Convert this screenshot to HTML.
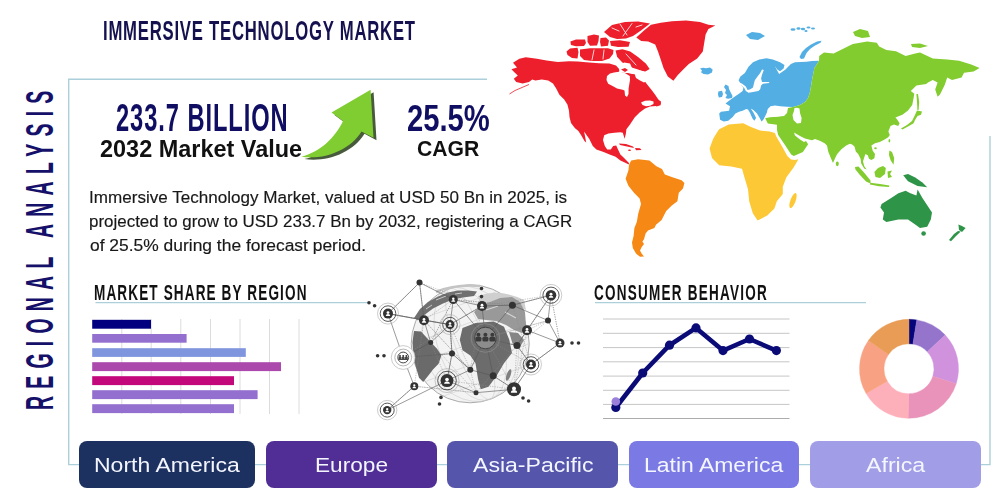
<!DOCTYPE html>
<html><head><meta charset="utf-8">
<style>
html,body{margin:0;padding:0;background:#fff;}
body{width:1000px;height:500px;position:relative;overflow:hidden;font-family:"Liberation Sans",sans-serif;}
.t{position:absolute;white-space:nowrap;line-height:1;transform-origin:0 0;}
.osw{font-weight:bold;color:#100e62;}
.btn{position:absolute;top:441px;height:46.5px;border-radius:8px;}
.bt{position:absolute;white-space:nowrap;line-height:1;transform-origin:0 0;color:#f4f6ff;font-size:20.1px;top:455.4px;}
svg{position:absolute;left:0;top:0;}
</style></head><body>

<!-- frame lines -->
<svg width="1000" height="500" style="z-index:0">
 <g stroke="#acd0d9" stroke-width="1.4" fill="none">
  <polyline points="487,79.2 68.7,79.2 68.7,464.6 990,464.6 990,136"/>
  <line x1="95.5" y1="302.6" x2="368" y2="302.6"/>
  <line x1="595" y1="302.6" x2="866" y2="302.6"/>
 </g>
</svg>

<svg width="1000" height="500" id="map">
<polygon points="513.0,62.8 519.4,58.8 525.8,57.2 537.0,58.8 546.6,60.4 557.8,62.0 569.0,61.2 578.0,61.5 586.0,62.3 599.0,63.2 609.4,63.4 616.0,65.5 620.0,70.0 624.0,72.0 632.0,74.0 640.0,74.5 646.6,83.8 651.4,89.8 655.0,94.6 658.0,99.0 661.0,104.0 656.0,106.0 650.0,106.5 645.0,108.5 639.6,112.4 634.8,117.2 630.0,124.4 626.4,129.2 625.8,134.0 624.6,138.8 622.8,132.8 620.4,132.2 614.4,132.8 608.4,133.4 604.2,135.2 603.0,140.0 604.8,146.0 607.2,149.6 610.8,149.6 613.2,146.0 616.2,145.4 618.0,149.6 620.4,154.4 622.8,156.8 626.0,160.0 629.0,163.0 628.8,164.5 625.2,162.8 620.4,160.4 615.6,156.8 609.6,154.4 603.6,152.0 596.4,149.6 592.8,146.0 589.2,138.8 584.0,131.5 585.0,136.0 586.2,142.4 584.5,141.0 581.0,135.0 578.4,131.0 574.8,128.0 571.0,123.0 569.5,117.0 569.0,110.8 567.4,104.4 564.2,99.6 559.4,94.8 556.2,88.4 553.0,83.6 548.2,80.4 541.8,79.6 535.4,80.4 532.2,79.6 529.0,82.0 522.6,83.6 516.2,82.0 513.8,78.8 517.8,75.6 514.6,72.4 511.4,69.2 517.0,67.6" fill="#ed1f2c"/>
<path d="M529,84.5 L522,87.5 L515,90.5 L509.5,94" stroke="#ed1f2c" stroke-width="0.8" fill="none"/>
<polygon points="604.0,32.0 612.0,25.0 625.0,22.0 638.0,21.5 650.0,23.5 641.0,30.5 633.0,36.0 626.0,38.5 617.0,39.0 610.0,37.0" fill="#ed1f2c"/>
<polygon points="610.0,41.0 620.0,40.3 630.0,42.0 628.5,46.8 618.0,47.0 611.0,45.8" fill="#ed1f2c"/>
<polygon points="570.4,41.5 576.0,39.5 585.0,39.5 586.0,43.0 584.0,46.0 576.0,46.3 571.0,45.0" fill="#ed1f2c"/>
<polygon points="587.5,36.0 594.0,34.5 599.0,35.5 598.5,41.0 597.0,45.5 590.0,45.8 587.5,42.0" fill="#ed1f2c"/>
<polygon points="600.5,38.0 606.0,37.5 609.0,40.5 608.0,45.8 601.0,46.5 600.0,42.0" fill="#ed1f2c"/>
<polygon points="566.5,51.5 570.0,48.5 577.5,47.8 578.5,52.0 577.5,58.5 572.0,58.0 567.5,55.0" fill="#ed1f2c"/>
<polygon points="580.0,49.5 590.0,48.3 600.0,48.3 608.0,48.3 613.5,50.0 613.0,54.0 609.5,58.5 602.0,61.0 592.0,61.0 584.0,60.0 580.0,56.0" fill="#ed1f2c"/>
<polygon points="615.5,50.5 622.4,49.3 630.2,51.5 638.0,57.0 645.8,63.5 649.7,69.0 644.5,72.0 638.0,69.6 630.2,67.0 622.4,62.5 617.2,57.0" fill="#ed1f2c"/>
<g stroke="#fff" stroke-width="0.8" fill="none" stroke-linecap="round"><path d="M620,24 L627,35 M632,23.5 L623,36 M626,54 L636,65 M594,50 L592,60 M604,50 L603,59 M612,28 L619,31 M636,27 L642,25"/></g>
<polygon points="636.3,37.4 644.0,30.4 651.0,24.8 660.8,22.7 672.0,21.3 686.0,20.6 700.0,22.0 708.4,24.8 715.4,25.5 708.4,29.0 705.6,34.6 704.2,43.0 702.8,51.4 697.2,58.4 688.8,64.0 683.2,69.6 677.6,75.2 673.4,80.8 667.8,76.6 663.6,68.2 660.8,59.8 658.0,51.4 655.2,44.4 648.2,41.6 641.2,40.9" fill="#ed1f2c"/>
<polygon points="607.0,76.0 610.0,73.5 614.0,72.5 619.0,71.8 624.0,72.5 629.8,76.0 630.0,80.0 628.6,88.6 628.5,94.0 627.0,97.0 625.0,95.5 624.5,90.5 622.6,89.8 617.0,88.5 613.0,86.2 608.2,83.8 606.5,80.0" fill="#fff"/>
<polygon points="619.0,143.5 626.0,144.0 633.0,146.5 634.0,148.0 627.0,146.6 620.0,145.0" fill="#ed1f2c"/>
<polygon points="635.0,148.0 640.0,148.3 641.5,150.0 636.0,150.2" fill="#ed1f2c"/>
<ellipse cx="629.5" cy="150.2" rx="1.5" ry="0.7" fill="#ed1f2c"/>
<polygon points="619.0,70.0 626.0,71.0 632.0,73.2 640.0,73.6 648.0,76.5 652.0,79.0 650.0,75.0 645.0,71.5 638.0,70.0 630.0,68.0 622.0,66.0" fill="#fff"/>
<polygon points="619.0,72.0 620.0,66.0 624.0,62.5 630.0,63.5 632.0,68.0 631.0,73.0 626.0,73.0" fill="#fff"/>
<polygon points="621.0,69.5 625.0,68.0 628.0,70.0 625.0,72.0" fill="#ed1f2c"/>
<polygon points="634.6,74.0 640.0,73.5 645.4,76.6 647.0,81.0 644.0,82.6 640.0,80.5 636.0,78.0" fill="#fff"/>
<polygon points="641.0,102.5 645.0,100.8 650.0,100.6 653.5,101.5 653.5,104.0 650.0,105.8 646.0,106.2 642.5,105.0" fill="#fff"/>
<polygon points="654.0,100.2 658.0,99.4 661.0,101.5 660.5,105.2 656.5,106.6 654.2,104.5" fill="#ed1f2c"/>
<polygon points="631.2,160.6 638.2,159.2 649.4,160.6 656.4,166.2 662.0,169.0 664.8,174.6 673.2,177.4 681.6,180.2 684.4,183.0 683.0,188.6 678.8,192.8 677.4,201.2 671.8,205.4 666.2,211.0 663.4,216.6 661.6,220.0 656.0,224.8 654.4,228.0 648.0,230.4 645.6,233.6 644.0,239.2 642.4,241.6 644.0,244.0 641.6,247.2 640.0,250.4 641.6,253.6 644.0,256.4 640.0,256.8 636.0,253.6 632.8,248.0 632.0,242.4 633.6,236.0 634.4,228.0 636.8,222.0 638.2,213.8 641.0,204.0 639.6,198.4 634.0,192.8 628.4,185.8 625.6,178.8 628.4,170.4 629.0,165.0" fill="#f68915"/>
<polygon points="738.6,80.2 740.4,76.6 744.9,73.0 748.5,66.7 753.0,62.2 759.3,59.5 766.5,58.2 772.8,59.5 780.0,62.2 784.5,64.9 783.6,68.5 780.0,71.2 777.3,69.4 774.6,65.8 779.1,73.9 785.5,69.4 790.9,64.0 795.0,62.2 806.5,61.7 812.0,61.0 819.0,60.8 814.4,68.0 812.0,80.0 810.0,92.0 808.0,98.0 805.0,102.0 800.0,105.0 793.0,107.0 787.0,106.7 780.4,106.3 775.0,105.4 770.5,106.3 767.8,109.0 766.9,112.6 765.1,116.2 763.3,119.8 761.5,121.6 759.7,118.0 757.0,113.5 753.4,110.0 750.7,108.5 753.4,112.6 756.1,118.0 754.3,120.7 752.5,118.5 749.8,112.6 748.0,109.5 746.2,109.0 742.6,110.8 739.0,111.7 735.4,113.5 732.7,117.1 728.2,120.7 723.7,121.6 720.1,119.8 719.2,113.5 721.0,111.7 729.1,110.8 730.0,106.3 725.5,103.6 730.0,100.0 736.3,95.5 739.0,93.7 742.6,91.0 743.5,87.4 741.5,85.5" fill="#52aee3"/>
<polygon points="762.0,69.4 763.8,69.9 762.0,74.8 761.1,78.4 762.0,82.0 769.2,82.0 769.2,83.0 762.9,83.8 761.1,85.6 760.2,89.2 758.4,91.0 753.0,92.0 748.5,92.8 745.8,91.0 744.0,87.4 740.4,84.7 738.6,82.0 742.2,83.8 745.8,86.5 747.6,90.1 750.3,89.2 753.0,87.4 753.9,83.8 754.8,80.2 757.5,76.6 760.2,73.0" fill="#fff"/>
<polygon points="725.5,84.5 728.5,86.0 729.0,89.0 730.5,92.0 732.5,96.0 732.0,98.0 728.0,98.8 725.5,98.0 727.0,95.0 725.0,93.0 726.0,90.0 724.0,87.0" fill="#52aee3"/>
<polygon points="718.3,91.5 722.0,90.8 723.0,94.0 722.0,97.0 718.8,97.5 718.0,94.5" fill="#52aee3"/>
<polygon points="746.0,35.0 752.0,32.0 760.0,33.0 765.0,36.0 758.0,40.0 750.0,39.0" fill="#52aee3"/>
<polygon points="799.5,57.0 802.0,52.0 806.0,48.0 811.0,44.5 817.0,41.5 821.5,40.8 820.5,42.8 815.0,45.5 810.0,49.0 806.5,53.0 804.0,58.5 801.0,59.0" fill="#52aee3"/>
<ellipse cx="793" cy="29.5" rx="2.5" ry="1.2" fill="#52aee3"/>
<ellipse cx="798.5" cy="28.5" rx="2" ry="1.3" fill="#52aee3"/>
<ellipse cx="803" cy="29" rx="2.2" ry="1.2" fill="#52aee3"/>
<ellipse cx="808.5" cy="27.5" rx="2" ry="1.1" fill="#52aee3"/>
<ellipse cx="813" cy="28.5" rx="2" ry="1" fill="#52aee3"/>
<ellipse cx="806" cy="31" rx="1.6" ry="0.9" fill="#52aee3"/>
<polygon points="700.0,68.5 703.0,67.8 706.0,68.2 710.0,67.6 712.6,69.5 712.0,72.5 708.0,74.5 703.5,74.0 701.0,72.3 702.0,70.5" fill="#52aee3"/>
<polygon points="719.2,129.2 728.8,124.4 743.2,123.2 750.4,126.8 760.0,130.4 769.6,131.6 775.0,133.0 776.0,136.0 779.5,142.0 783.5,149.0 787.3,156.0 791.0,159.5 795.0,160.0 798.4,159.2 793.6,167.6 786.4,177.2 782.8,186.8 782.8,194.0 776.8,201.2 774.4,208.4 767.2,215.6 757.6,220.4 752.8,213.2 749.2,201.2 748.0,189.2 744.4,177.2 742.0,168.8 731.2,166.4 719.2,165.2 712.0,158.0 709.6,148.4 713.2,138.8 716.8,132.8" fill="#fcc835"/>
<ellipse cx="793" cy="200.6" rx="2.6" ry="8" transform="rotate(20 793 200.6)" fill="#fcc835"/>
<polygon points="819.0,60.8 819.2,56.0 824.0,52.4 833.6,53.6 843.2,48.8 852.8,44.0 867.2,41.6 876.8,42.8 879.2,46.4 886.4,50.0 896.0,51.2 905.6,56.0 915.2,53.6 920.0,52.4 932.8,58.4 947.2,59.6 959.2,60.8 971.2,64.4 979.6,68.0 973.6,71.6 964.0,72.8 961.6,77.6 952.0,80.0 947.2,77.6 944.8,84.8 940.0,94.4 937.6,96.8 935.2,89.6 937.6,82.4 932.8,80.0 928.0,82.4 926.2,84.0 916.4,85.4 910.8,91.0 914.3,93.8 913.6,98.0 912.2,105.0 908.0,110.6 902.4,114.8 895.4,117.6 896.8,119.0 899.6,123.2 898.2,126.0 894.0,124.6 890.5,126.0 888.4,131.6 889.8,135.0 888.2,137.2 884.6,139.6 879.8,142.0 875.0,143.2 871.4,145.6 872.6,150.4 875.0,154.0 874.4,158.2 871.4,160.0 869.0,158.8 867.8,155.2 865.4,154.0 864.2,157.6 863.0,161.2 864.2,166.0 866.6,169.6 864.2,168.4 861.2,163.6 860.6,158.8 858.2,154.0 855.8,151.6 854.6,146.8 852.2,144.4 849.8,143.8 846.2,145.6 841.4,149.2 837.2,154.0 835.4,157.6 833.0,163.0 830.6,157.6 828.2,151.6 827.0,145.6 824.6,143.2 819.8,140.8 815.0,139.0 812.0,140.3 805.0,138.5 800.0,136.0 794.0,132.5 795.0,135.5 800.0,139.5 804.0,142.0 806.0,141.0 808.1,144.2 802.9,152.0 793.8,155.9 791.2,154.6 785.0,145.0 778.2,135.1 777.0,130.0 777.0,124.7 767.8,123.4 765.2,118.2 770.0,117.2 777.0,116.7 784.0,116.0 787.0,113.0 788.0,108.0 793.0,107.0 800.0,105.0 805.0,102.0 808.0,98.0 810.0,92.0 812.0,80.0 814.4,68.0" fill="#82cc2f"/>
<polygon points="767.8,110.0 770.0,107.5 777.0,106.5 786.0,107.8 787.0,111.0 784.0,115.6 777.0,116.5 770.0,117.0 767.8,113.0" fill="#fff"/>
<polygon points="794.5,108.0 797.0,107.8 799.5,108.5 800.0,113.0 801.6,118.0 801.0,123.0 797.0,123.4 793.5,120.0 792.5,115.0 794.0,111.0" fill="#fff"/>
<polygon points="853.0,32.0 860.0,29.0 868.0,31.0 870.0,37.0 862.0,38.0 855.0,36.0" fill="#82cc2f"/>
<polygon points="911.0,44.0 920.0,43.5 928.0,46.0 920.0,48.0 912.0,47.0" fill="#82cc2f"/>
<polygon points="917.0,110.6 922.0,111.5 921.0,114.8 917.5,116.0 915.0,120.0 913.6,123.2 908.0,126.5 902.4,129.5 901.0,128.5 907.0,125.0 912.0,121.0 914.5,116.0" fill="#82cc2f"/>
<polygon points="916.4,94.0 918.0,94.0 919.2,102.0 918.6,110.0 917.4,110.0 917.0,102.0" fill="#82cc2f"/>
<polygon points="855.0,167.0 858.5,166.5 864.0,172.5 870.5,180.5 870.5,183.5 866.0,181.5 859.5,174.5 855.5,169.5" fill="#82cc2f"/>
<polygon points="870.2,182.8 880.0,184.0 889.4,185.6 889.0,187.0 879.0,186.2 870.0,184.6" fill="#82cc2f"/>
<polygon points="874.4,172.0 878.0,168.0 883.0,166.0 885.8,168.0 885.0,174.0 880.0,178.0 875.5,177.0" fill="#82cc2f"/>
<polygon points="887.5,171.5 892.0,170.5 890.0,174.0 892.0,177.0 888.0,178.0" fill="#82cc2f"/>
<polygon points="889.4,150.4 892.0,152.0 894.2,158.0 893.5,164.8 890.5,160.0 889.0,155.0" fill="#82cc2f"/>
<ellipse cx="837.3" cy="163.8" rx="1.5" ry="2.4" fill="#82cc2f"/>
<ellipse cx="889.4" cy="140.8" rx="0.9" ry="1.8" fill="#82cc2f"/>
<ellipse cx="875.5" cy="148.2" rx="1.3" ry="1" fill="#82cc2f"/>
<polygon points="881.6,204.0 891.2,198.0 898.4,193.2 905.6,190.8 910.4,193.2 916.4,195.6 917.6,189.6 922.4,198.0 927.2,205.2 932.0,212.4 930.8,219.6 927.2,226.8 920.0,228.0 915.2,224.4 908.0,219.6 898.4,219.6 886.4,222.0 882.8,219.6 884.0,212.4 880.4,207.6" fill="#2e9447"/>
<circle cx="923.6" cy="233.5" r="2.3" fill="#2e9447"/>
<polygon points="958.4,224.4 962.0,226.0 965.6,228.0 962.0,232.0 959.0,230.0" fill="#2e9447"/>
<polygon points="960.8,231.6 956.0,236.0 951.0,241.2 949.0,240.0 954.0,234.0 958.0,231.0" fill="#2e9447"/>
<polygon points="903.2,175.2 908.0,174.0 915.2,177.6 922.4,182.4 927.2,187.2 917.6,186.0 908.0,181.2" fill="#2e9447"/>
</svg>
<!-- title -->
<div class="t osw" style="left:102.9px;top:16.8px;font-size:27.6px;letter-spacing:1.28px;transform:scaleX(0.605);color:#15114f">IMMERSIVE TECHNOLOGY MARKET</div>

<!-- vertical text -->
<div class="t osw" style="left:20px;top:409.8px;font-size:39px;letter-spacing:14.4px;transform:rotate(-90deg) scaleX(0.5);color:#15106a">REGIONAL ANALYSIS</div>

<!-- numbers -->
<div class="t osw" style="left:116.2px;top:99px;font-size:38.2px;letter-spacing:1.5px;transform:scaleX(0.62)">233.7 BILLION</div>
<div class="t" style="left:100.3px;top:137.5px;font-size:23.5px;font-weight:bold;color:#111;transform:scaleX(0.998)">2032 Market Value</div>
<div class="t osw" style="left:407.1px;top:99.6px;font-size:37.2px;transform:scaleX(0.785)">25.5%</div>
<div class="t" style="left:417.3px;top:138px;font-size:21.8px;font-weight:bold;color:#111;transform:scaleX(0.97)">CAGR</div>

<!-- arrow -->
<svg width="1000" height="500">
 <defs><filter id="bl" x="-20%" y="-20%" width="140%" height="140%"><feGaussianBlur stdDeviation="0.7"/></filter></defs>
 <path d="M370.6,89.8 L331.5,112.5 L343,121 C335,138 320,152 301.4,156.7 C325,160 350,150 361.5,131.4 L373.5,137.8 Z" fill="#475a3a" transform="translate(3,2.4)" filter="url(#bl)" opacity="1"/>
 <path d="M370.6,89.8 L331.5,112.5 L343,121 C335,138 320,152 301.4,156.7 C325,160 350,150 361.5,131.4 L373.5,137.8 Z" fill="#80cd32"/>
</svg>

<!-- paragraph -->
<div class="t" style="left:88.7px;top:189.2px;font-size:16.3px;color:#181818;-webkit-text-stroke:0.15px #181818;transform:scaleX(1.049)">Immersive Technology Market, valued at USD 50 Bn in 2025, is</div>
<div class="t" style="left:89.3px;top:212.8px;font-size:16.3px;color:#181818;-webkit-text-stroke:0.15px #181818;transform:scaleX(1.041)">projected to grow to USD 233.7 Bn by 2032, registering a CAGR</div>
<div class="t" style="left:89.6px;top:237.2px;font-size:16.3px;color:#181818;-webkit-text-stroke:0.15px #181818;transform:scaleX(1.07)">of 25.5% during the forecast period.</div>

<!-- section titles -->
<div class="t" style="left:94px;top:281.7px;font-size:21.9px;font-weight:bold;letter-spacing:1.8px;color:#111;transform:scaleX(0.62)">MARKET SHARE BY REGION</div>
<div class="t" style="left:593.9px;top:281.7px;font-size:21.8px;font-weight:bold;letter-spacing:2px;color:#111;transform:scaleX(0.62)">CONSUMER BEHAVIOR</div>

<!-- bar chart -->
<svg width="1000" height="500">
 <g stroke="#dcdcdc" stroke-width="1">
  <line x1="121.8" y1="319" x2="121.8" y2="414"/>
  <line x1="151.2" y1="319" x2="151.2" y2="414"/>
  <line x1="180.8" y1="319" x2="180.8" y2="414"/>
  <line x1="210.5" y1="319" x2="210.5" y2="414"/>
  <line x1="240" y1="319" x2="240" y2="414"/>
  <line x1="269.5" y1="319" x2="269.5" y2="414"/>
  <line x1="299" y1="319" x2="299" y2="414"/>
 </g>
 <rect x="92.2" y="319.8" width="58.8" height="8.9" fill="#02007e"/>
 <rect x="92.2" y="334" width="94.4" height="8.7" fill="#9370cf"/>
 <rect x="92.2" y="348.2" width="153.6" height="8.7" fill="#7f95de"/>
 <rect x="92.2" y="362.2" width="188.8" height="8.9" fill="#ab49ac"/>
 <rect x="92.2" y="376.2" width="141.8" height="8.9" fill="#c2087a"/>
 <rect x="92.2" y="390.2" width="165.4" height="8.9" fill="#9370cf"/>
 <rect x="92.2" y="404.2" width="141.8" height="8.9" fill="#9370cf"/>
</svg>

<svg width="1000" height="500" id="globe">
<circle cx="470.2" cy="343.8" r="59" fill="#f3f3f3" stroke="#a0a0a0" stroke-width="0.9"/>
<ellipse cx="470.2" cy="343.8" rx="15" ry="59" fill="none" stroke="#c8c8c8" stroke-width="0.5" transform="rotate(-20 470.2 343.8)"/>
<ellipse cx="470.2" cy="343.8" rx="32" ry="59" fill="none" stroke="#c8c8c8" stroke-width="0.5" transform="rotate(-20 470.2 343.8)"/>
<ellipse cx="470.2" cy="343.8" rx="47" ry="59" fill="none" stroke="#c8c8c8" stroke-width="0.5" transform="rotate(-20 470.2 343.8)"/>
<line x1="427.2" y1="303.8" x2="513.2" y2="303.8" stroke="#cdcdcd" stroke-width="0.5" transform="rotate(-20 470.2 343.8)"/>
<line x1="414.7" y1="323.8" x2="525.7" y2="323.8" stroke="#cdcdcd" stroke-width="0.5" transform="rotate(-20 470.2 343.8)"/>
<line x1="411.2" y1="343.8" x2="529.2" y2="343.8" stroke="#cdcdcd" stroke-width="0.5" transform="rotate(-20 470.2 343.8)"/>
<line x1="414.7" y1="363.8" x2="525.7" y2="363.8" stroke="#cdcdcd" stroke-width="0.5" transform="rotate(-20 470.2 343.8)"/>
<line x1="427.2" y1="383.8" x2="513.2" y2="383.8" stroke="#cdcdcd" stroke-width="0.5" transform="rotate(-20 470.2 343.8)"/>
<polygon points="414.0,318.0 420.0,309.0 428.0,302.0 438.0,296.5 448.0,292.5 458.0,290.5 468.0,290.5 477.0,291.5 474.0,296.0 463.0,297.5 453.0,299.5 443.0,303.5 433.0,308.5 425.0,314.5 418.0,320.0" fill="#707070"/>
<path d="M436,300 L446,296 M426,309 L432,305 M455,294 L462,293" stroke="#c8c8c8" stroke-width="1"/>
<path d="M436,292 Q455,284 480,286" stroke="#c4c4c4" stroke-width="2.5" fill="none"/>
<polygon points="414.0,331.0 421.0,331.5 428.8,340.0 437.2,349.0 441.4,355.4 438.6,363.8 433.0,369.4 428.8,375.0 423.2,382.0 419.0,377.8 416.2,368.0 413.4,356.8 412.5,342.0" fill="#6a6a6a"/>
<polygon points="462.5,328.0 475.5,323.0 493.7,321.6 504.0,326.8 509.3,339.8 512.0,352.9 504.0,363.3 496.3,376.3 488.5,386.7 480.7,389.3 478.0,378.9 475.5,363.3 470.3,355.5 462.5,350.3 459.8,339.8" fill="#6c6c6c"/>
<path d="M478,296 Q500,288 524,300 L526,310 Q505,300 480,304 Z" fill="#cfcfcf"/>
<polygon points="474.0,312.0 480.0,306.0 490.0,302.0 500.0,298.0 512.0,297.0 520.0,302.0 525.0,312.0 526.0,325.0 522.0,333.0 514.0,330.0 506.0,325.0 496.0,321.0 486.0,320.0 478.0,319.0" fill="#999"/>
<path d="M486,310 L498,306 M505,312 L516,318" stroke="#d6d6d6" stroke-width="1.2" fill="none"/>
<polygon points="509.0,332.0 518.0,333.0 524.0,340.0 520.0,347.0 513.0,345.0" fill="#858585"/>
<ellipse cx="508.6" cy="375" rx="2" ry="6" fill="#808080" transform="rotate(20 508.6 375)"/>
<line x1="414.3" y1="386.2" x2="476" y2="392.7" stroke="#888" stroke-width="0.5" stroke-dasharray="1.2 1.2"/>
<line x1="476" y1="392.7" x2="414.3" y2="386.2" stroke="#888" stroke-width="0.5" stroke-dasharray="1.2 1.2"/>
<line x1="514" y1="389.3" x2="493.2" y2="375.8" stroke="#888" stroke-width="0.5" stroke-dasharray="1.2 1.2"/>
<line x1="450" y1="324.6" x2="388" y2="313.6" stroke="#888" stroke-width="0.5" stroke-dasharray="1.2 1.2"/>
<line x1="453.3" y1="299.5" x2="430.7" y2="342.5" stroke="#888" stroke-width="0.5" stroke-dasharray="1.2 1.2"/>
<line x1="424" y1="320.3" x2="470.3" y2="369.8" stroke="#888" stroke-width="0.5" stroke-dasharray="1.2 1.2"/>
<line x1="512.4" y1="305.2" x2="453.3" y2="299.5" stroke="#888" stroke-width="0.5" stroke-dasharray="1.2 1.2"/>
<line x1="424" y1="320.3" x2="414.3" y2="386.2" stroke="#888" stroke-width="0.5" stroke-dasharray="1.2 1.2"/>
<line x1="485.4" y1="338" x2="517" y2="345.6" stroke="#888" stroke-width="0.5" stroke-dasharray="1.2 1.2"/>
<line x1="560" y1="343" x2="531" y2="364.5" stroke="#888" stroke-width="0.5" stroke-dasharray="1.2 1.2"/>
<line x1="531" y1="364.5" x2="514" y2="389.3" stroke="#888" stroke-width="0.5" stroke-dasharray="1.2 1.2"/>
<line x1="470.3" y1="369.8" x2="476" y2="392.7" stroke="#888" stroke-width="0.5" stroke-dasharray="1.2 1.2"/>
<line x1="551" y1="295.2" x2="560" y2="343" stroke="#888" stroke-width="0.5" stroke-dasharray="1.2 1.2"/>
<line x1="403.2" y1="357.5" x2="450" y2="324.6" stroke="#888" stroke-width="0.5" stroke-dasharray="1.2 1.2"/>
<line x1="403.2" y1="357.5" x2="452" y2="353.6" stroke="#888" stroke-width="0.5" stroke-dasharray="1.2 1.2"/>
<line x1="485.4" y1="338" x2="548" y2="320.5" stroke="#888" stroke-width="0.5" stroke-dasharray="1.2 1.2"/>
<line x1="482" y1="306" x2="470.3" y2="369.8" stroke="#888" stroke-width="0.5" stroke-dasharray="1.2 1.2"/>
<line x1="424" y1="320.3" x2="419.5" y2="282.6" stroke="#888" stroke-width="0.5" stroke-dasharray="1.2 1.2"/>
<line x1="531" y1="364.5" x2="512.4" y2="305.2" stroke="#888" stroke-width="0.5" stroke-dasharray="1.2 1.2"/>
<line x1="476" y1="392.7" x2="517" y2="345.6" stroke="#888" stroke-width="0.5" stroke-dasharray="1.2 1.2"/>
<line x1="514" y1="389.3" x2="527" y2="330.2" stroke="#888" stroke-width="0.5" stroke-dasharray="1.2 1.2"/>
<line x1="453.3" y1="299.5" x2="430.7" y2="342.5" stroke="#888" stroke-width="0.5" stroke-dasharray="1.2 1.2"/>
<line x1="419.5" y1="282.6" x2="482" y2="306" stroke="#888" stroke-width="0.5" stroke-dasharray="1.2 1.2"/>
<line x1="512.4" y1="305.2" x2="551" y2="295.2" stroke="#888" stroke-width="0.5" stroke-dasharray="1.2 1.2"/>
<line x1="485.4" y1="338" x2="531" y2="364.5" stroke="#888" stroke-width="0.5" stroke-dasharray="1.2 1.2"/>
<line x1="470.3" y1="369.8" x2="424" y2="320.3" stroke="#888" stroke-width="0.5" stroke-dasharray="1.2 1.2"/>
<line x1="447" y1="380.6" x2="514" y2="389.3" stroke="#888" stroke-width="0.5" stroke-dasharray="1.2 1.2"/>
<line x1="551" y1="295.2" x2="560" y2="343" stroke="#888" stroke-width="0.5" stroke-dasharray="1.2 1.2"/>
<line x1="517" y1="345.6" x2="531" y2="364.5" stroke="#888" stroke-width="0.5" stroke-dasharray="1.2 1.2"/>
<line x1="517" y1="345.6" x2="514" y2="389.3" stroke="#888" stroke-width="0.5" stroke-dasharray="1.2 1.2"/>
<line x1="430.7" y1="342.5" x2="476" y2="392.7" stroke="#888" stroke-width="0.5" stroke-dasharray="1.2 1.2"/>
<line x1="424" y1="320.3" x2="453.3" y2="299.5" stroke="#888" stroke-width="0.5" stroke-dasharray="1.2 1.2"/>
<line x1="452" y1="353.6" x2="447" y2="380.6" stroke="#888" stroke-width="0.5" stroke-dasharray="1.2 1.2"/>
<line x1="387.2" y1="410.1" x2="414.3" y2="386.2" stroke="#888" stroke-width="0.5" stroke-dasharray="1.2 1.2"/>
<line x1="419.5" y1="282.6" x2="388" y2="313.6" stroke="#888" stroke-width="0.5" stroke-dasharray="1.2 1.2"/>
<line x1="517" y1="345.6" x2="548" y2="320.5" stroke="#888" stroke-width="0.5" stroke-dasharray="1.2 1.2"/>
<line x1="447" y1="380.6" x2="430.7" y2="342.5" stroke="#888" stroke-width="0.5" stroke-dasharray="1.2 1.2"/>
<line x1="452" y1="353.6" x2="450" y2="324.6" stroke="#888" stroke-width="0.5" stroke-dasharray="1.2 1.2"/>
<line x1="470.3" y1="369.8" x2="450" y2="324.6" stroke="#888" stroke-width="0.5" stroke-dasharray="1.2 1.2"/>
<line x1="452" y1="353.6" x2="470.3" y2="369.8" stroke="#888" stroke-width="0.5" stroke-dasharray="1.2 1.2"/>
<line x1="551" y1="295.2" x2="517" y2="345.6" stroke="#888" stroke-width="0.5" stroke-dasharray="1.2 1.2"/>
<line x1="527" y1="330.2" x2="548" y2="320.5" stroke="#888" stroke-width="0.5" stroke-dasharray="1.2 1.2"/>
<line x1="517" y1="345.6" x2="527" y2="330.2" stroke="#888" stroke-width="0.5" stroke-dasharray="1.2 1.2"/>
<line x1="452" y1="353.6" x2="450" y2="324.6" stroke="#888" stroke-width="0.5" stroke-dasharray="1.2 1.2"/>
<line x1="560" y1="343" x2="531" y2="364.5" stroke="#888" stroke-width="0.5" stroke-dasharray="1.2 1.2"/>
<line x1="450" y1="324.6" x2="482" y2="306" stroke="#888" stroke-width="0.5" stroke-dasharray="1.2 1.2"/>
<line x1="548" y1="320.5" x2="485.4" y2="338" stroke="#888" stroke-width="0.5" stroke-dasharray="1.2 1.2"/>
<line x1="517" y1="345.6" x2="527" y2="330.2" stroke="#888" stroke-width="0.5" stroke-dasharray="1.2 1.2"/>
<line x1="512.4" y1="305.2" x2="453.3" y2="299.5" stroke="#888" stroke-width="0.5" stroke-dasharray="1.2 1.2"/>
<line x1="514" y1="389.3" x2="485.4" y2="338" stroke="#888" stroke-width="0.5" stroke-dasharray="1.2 1.2"/>
<line x1="482" y1="306" x2="551" y2="295.2" stroke="#888" stroke-width="0.5" stroke-dasharray="1.2 1.2"/>
<line x1="419.5" y1="282.6" x2="453.3" y2="299.5" stroke="#555" stroke-width="0.6"/>
<line x1="419.5" y1="282.6" x2="388" y2="313.6" stroke="#555" stroke-width="0.6"/>
<line x1="419.5" y1="282.6" x2="424" y2="320.3" stroke="#555" stroke-width="0.6"/>
<line x1="453.3" y1="299.5" x2="482" y2="306" stroke="#555" stroke-width="0.6"/>
<line x1="482" y1="306" x2="512.4" y2="305.2" stroke="#555" stroke-width="0.6"/>
<line x1="512.4" y1="305.2" x2="551" y2="295.2" stroke="#555" stroke-width="0.6"/>
<line x1="512.4" y1="305.2" x2="548" y2="320.5" stroke="#555" stroke-width="0.6"/>
<line x1="551" y1="295.2" x2="548" y2="320.5" stroke="#555" stroke-width="0.6"/>
<line x1="548" y1="320.5" x2="560" y2="343" stroke="#555" stroke-width="0.6"/>
<line x1="551" y1="295.2" x2="527" y2="330.2" stroke="#555" stroke-width="0.6"/>
<line x1="527" y1="330.2" x2="560" y2="343" stroke="#555" stroke-width="0.6"/>
<line x1="424" y1="320.3" x2="388" y2="313.6" stroke="#555" stroke-width="0.6"/>
<line x1="424" y1="320.3" x2="450" y2="324.6" stroke="#555" stroke-width="0.6"/>
<line x1="450" y1="324.6" x2="453.3" y2="299.5" stroke="#555" stroke-width="0.6"/>
<line x1="450" y1="324.6" x2="482" y2="306" stroke="#555" stroke-width="0.6"/>
<line x1="450" y1="324.6" x2="452" y2="353.6" stroke="#555" stroke-width="0.6"/>
<line x1="482" y1="306" x2="485.4" y2="338" stroke="#555" stroke-width="0.6"/>
<line x1="485.4" y1="338" x2="517" y2="345.6" stroke="#555" stroke-width="0.6"/>
<line x1="485.4" y1="338" x2="512.4" y2="305.2" stroke="#555" stroke-width="0.6"/>
<line x1="485.4" y1="338" x2="470.3" y2="369.8" stroke="#555" stroke-width="0.6"/>
<line x1="424" y1="320.3" x2="430.7" y2="342.5" stroke="#555" stroke-width="0.6"/>
<line x1="430.7" y1="342.5" x2="403.2" y2="357.5" stroke="#555" stroke-width="0.6"/>
<line x1="403.2" y1="357.5" x2="388" y2="313.6" stroke="#555" stroke-width="0.6"/>
<line x1="403.2" y1="357.5" x2="414.3" y2="386.2" stroke="#555" stroke-width="0.6"/>
<line x1="414.3" y1="386.2" x2="387.2" y2="410.1" stroke="#555" stroke-width="0.6"/>
<line x1="387.2" y1="410.1" x2="447" y2="380.6" stroke="#555" stroke-width="0.6"/>
<line x1="447" y1="380.6" x2="452" y2="353.6" stroke="#555" stroke-width="0.6"/>
<line x1="447" y1="380.6" x2="470.3" y2="369.8" stroke="#555" stroke-width="0.6"/>
<line x1="470.3" y1="369.8" x2="493.2" y2="375.8" stroke="#555" stroke-width="0.6"/>
<line x1="493.2" y1="375.8" x2="514" y2="389.3" stroke="#555" stroke-width="0.6"/>
<line x1="514" y1="389.3" x2="531" y2="364.5" stroke="#555" stroke-width="0.6"/>
<line x1="531" y1="364.5" x2="560" y2="343" stroke="#555" stroke-width="0.6"/>
<line x1="531" y1="364.5" x2="517" y2="345.6" stroke="#555" stroke-width="0.6"/>
<line x1="517" y1="345.6" x2="527" y2="330.2" stroke="#555" stroke-width="0.6"/>
<line x1="452" y1="353.6" x2="470.3" y2="369.8" stroke="#555" stroke-width="0.6"/>
<line x1="485.4" y1="338" x2="493.2" y2="375.8" stroke="#555" stroke-width="0.6"/>
<line x1="430.7" y1="342.5" x2="450" y2="324.6" stroke="#555" stroke-width="0.6"/>
<line x1="447" y1="380.6" x2="476" y2="392.7" stroke="#555" stroke-width="0.6"/>
<line x1="476" y1="392.7" x2="514" y2="389.3" stroke="#555" stroke-width="0.6"/>
<line x1="403.2" y1="357.5" x2="452" y2="353.6" stroke="#555" stroke-width="0.6"/>
<line x1="453.3" y1="299.5" x2="485.4" y2="338" stroke="#555" stroke-width="0.6"/>
<line x1="388" y1="313.6" x2="450" y2="324.6" stroke="#555" stroke-width="0.6"/>
<circle cx="419.5" cy="282.6" r="3" fill="#333"/>
<circle cx="453.3" cy="299.5" r="4.5" fill="#333"/>
<circle cx="453.3" cy="298.7" r="1.26" fill="#fff"/><path d="M451.28,301.75a2.02,1.80 0 0 1 4.05,0z" fill="#fff"/>
<circle cx="482" cy="306" r="5" fill="#333"/>
<circle cx="482" cy="305.2" r="1.40" fill="#fff"/><path d="M479.75,308.50a2.25,2.00 0 0 1 4.50,0z" fill="#fff"/>
<circle cx="512.4" cy="305.2" r="3.5" fill="#333"/>
<circle cx="424" cy="320.3" r="5" fill="#333"/>
<circle cx="424" cy="319.5" r="1.40" fill="#fff"/><path d="M421.75,322.80a2.25,2.00 0 0 1 4.50,0z" fill="#fff"/>
<circle cx="450" cy="324.6" r="10.0" fill="none" stroke="#aaa" stroke-width="0.6"/>
<circle cx="450" cy="324.6" r="7.3" fill="none" stroke="#444" stroke-width="0.9"/>
<circle cx="450" cy="324.6" r="4.5" fill="#333"/>
<circle cx="450" cy="323.6" r="1.26" fill="#fff"/><path d="M447.98,326.85a2.02,1.80 0 0 1 4.05,0z" fill="#fff"/>
<circle cx="485.4" cy="338" r="14.3" fill="none" stroke="#8a8a8a" stroke-width="0.8"/>
<circle cx="485.4" cy="338" r="10.8" fill="#8c8c8c" stroke="#444" stroke-width="1"/>
<circle cx="478.4" cy="334.7" r="2" fill="#3a3a3a"/><rect x="475.4" y="336.8" width="6" height="4.6" rx="1.5" fill="#3a3a3a"/>
<circle cx="485.4" cy="334.7" r="2" fill="#3a3a3a"/><rect x="482.4" y="336.8" width="6" height="4.6" rx="1.5" fill="#3a3a3a"/>
<circle cx="492.4" cy="334.7" r="2" fill="#3a3a3a"/><rect x="489.4" y="336.8" width="6" height="4.6" rx="1.5" fill="#3a3a3a"/>
<circle cx="527" cy="330.2" r="5" fill="#333"/>
<circle cx="527" cy="329.4" r="1.40" fill="#fff"/><path d="M524.75,332.70a2.25,2.00 0 0 1 4.50,0z" fill="#fff"/>
<circle cx="517" cy="345.6" r="3.5" fill="#333"/>
<circle cx="430.7" cy="342.5" r="2.5" fill="#333"/>
<circle cx="452" cy="353.6" r="3" fill="#333"/>
<circle cx="470.3" cy="369.8" r="3" fill="#333"/>
<circle cx="493.2" cy="375.8" r="3.5" fill="#333"/>
<circle cx="531" cy="364.5" r="10.5" fill="none" stroke="#aaa" stroke-width="0.6"/>
<circle cx="531" cy="364.5" r="7.8" fill="none" stroke="#444" stroke-width="0.9"/>
<circle cx="531" cy="364.5" r="5" fill="#333"/>
<circle cx="531" cy="363.5" r="1.40" fill="#fff"/><path d="M528.75,367.00a2.25,2.00 0 0 1 4.50,0z" fill="#fff"/>
<circle cx="447" cy="380.6" r="12.0" fill="none" stroke="#aaa" stroke-width="0.6"/>
<circle cx="447" cy="380.6" r="9.3" fill="none" stroke="#444" stroke-width="0.9"/>
<circle cx="447" cy="380.6" r="6.5" fill="#333"/>
<circle cx="447" cy="379.6" r="1.82" fill="#fff"/><path d="M444.07,383.85a2.93,2.60 0 0 1 5.85,0z" fill="#fff"/>
<circle cx="414.3" cy="386.2" r="4" fill="#333"/>
<circle cx="414.3" cy="385.4" r="1.12" fill="#fff"/><path d="M412.50,388.20a1.80,1.60 0 0 1 3.60,0z" fill="#fff"/>
<circle cx="514" cy="389.3" r="7" fill="#333"/>
<circle cx="514" cy="388.5" r="1.96" fill="#fff"/><path d="M510.85,392.80a3.15,2.80 0 0 1 6.30,0z" fill="#fff"/>
<circle cx="476" cy="392.7" r="2.5" fill="#333"/>
<circle cx="388" cy="313.6" r="10.5" fill="none" stroke="#aaa" stroke-width="0.6"/>
<circle cx="388" cy="313.6" r="7.8" fill="none" stroke="#444" stroke-width="0.9"/>
<circle cx="388" cy="313.6" r="5" fill="#333"/>
<circle cx="388" cy="312.6" r="1.40" fill="#fff"/><path d="M385.75,316.10a2.25,2.00 0 0 1 4.50,0z" fill="#fff"/>
<circle cx="551" cy="295.2" r="10.8" fill="none" stroke="#aaa" stroke-width="0.6"/>
<circle cx="551" cy="295.2" r="8.1" fill="none" stroke="#444" stroke-width="0.9"/>
<circle cx="551" cy="295.2" r="5.3" fill="#333"/>
<circle cx="551" cy="294.2" r="1.48" fill="#fff"/><path d="M548.62,297.85a2.38,2.12 0 0 1 4.77,0z" fill="#fff"/>
<circle cx="548" cy="320.5" r="3" fill="#333"/>
<circle cx="560" cy="343" r="4.5" fill="#333"/>
<circle cx="560" cy="342.2" r="1.26" fill="#fff"/><path d="M557.98,345.25a2.02,1.80 0 0 1 4.05,0z" fill="#fff"/>
<circle cx="403.2" cy="357.5" r="11.9" fill="#fff" fill-opacity="0.9" stroke="#aaa" stroke-width="0.6"/>
<circle cx="403.2" cy="357.5" r="8.4" fill="none" stroke="#999" stroke-width="0.7"/>
<circle cx="403.2" cy="357.5" r="5.4" fill="#fff" stroke="#444" stroke-width="1"/>
<circle cx="400.0" cy="355.9" r="1" fill="#333"/><rect x="398.6" y="357.1" width="2.8" height="1.8" fill="#333"/>
<circle cx="403.2" cy="355.9" r="1" fill="#333"/><rect x="401.8" y="357.1" width="2.8" height="1.8" fill="#333"/>
<circle cx="406.4" cy="355.9" r="1" fill="#333"/><rect x="405.0" y="357.1" width="2.8" height="1.8" fill="#333"/>
<rect x="398.4" y="359.1" width="9.6" height="0.9" fill="#333"/>
<circle cx="387.2" cy="410.1" r="9.7" fill="none" stroke="#aaa" stroke-width="0.6"/>
<circle cx="387.2" cy="410.1" r="7.0" fill="none" stroke="#444" stroke-width="0.9"/>
<circle cx="387.2" cy="410.1" r="4.2" fill="#333"/>
<circle cx="387.2" cy="409.1" r="1.18" fill="#fff"/><path d="M385.31,412.20a1.89,1.68 0 0 1 3.78,0z" fill="#fff"/>
<circle cx="369" cy="302.7" r="1.8" fill="#333"/>
<circle cx="374.6" cy="305.8" r="1.8" fill="#333"/>
<circle cx="377.6" cy="355.7" r="1.8" fill="#333"/>
<circle cx="384" cy="355.7" r="1.8" fill="#333"/>
<circle cx="572" cy="343" r="1.8" fill="#333"/>
<circle cx="578.5" cy="343" r="1.8" fill="#333"/>
<circle cx="523" cy="398" r="1.8" fill="#333"/>
<circle cx="528.6" cy="401" r="1.8" fill="#333"/>
<circle cx="439.5" cy="404" r="1.8" fill="#333"/>
<circle cx="441" cy="397.4" r="1.8" fill="#333"/>
<circle cx="481.5" cy="288.5" r="1.8" fill="#333"/>
<circle cx="481.5" cy="296.6" r="1.8" fill="#333"/>
</svg>
<!-- line chart -->
<svg width="1000" height="500">
 <g stroke="#c6c6c6" stroke-width="1">
  <line x1="603" y1="319" x2="789.5" y2="319"/>
  <line x1="603" y1="333.3" x2="789.5" y2="333.3"/>
  <line x1="603" y1="347.6" x2="789.5" y2="347.6"/>
  <line x1="603" y1="361.8" x2="789.5" y2="361.8"/>
  <line x1="603" y1="376.1" x2="789.5" y2="376.1"/>
  <line x1="603" y1="390.3" x2="789.5" y2="390.3"/>
  <line x1="603" y1="404.4" x2="789.5" y2="404.4"/>
  <line x1="603" y1="418.5" x2="789.5" y2="418.5" stroke="#acacac"/>
 </g>
 <polyline points="615.8,407.5 642.7,373 669.5,345.2 696,327.9 723,350.6 749.5,339 776.4,350.6" fill="none" stroke="#0b0b78" stroke-width="4.6" stroke-linejoin="round"/>
 <g fill="#0b0b78">
  <circle cx="615.8" cy="407.5" r="4.6"/>
  <circle cx="642.7" cy="373" r="4.6"/>
  <circle cx="669.5" cy="345.2" r="4.6"/>
  <circle cx="696" cy="327.9" r="4.6"/>
  <circle cx="723" cy="350.6" r="4.6"/>
  <circle cx="749.5" cy="339" r="4.6"/>
  <circle cx="776.4" cy="350.6" r="4.6"/>
 </g>
 <circle cx="615.8" cy="401.5" r="4.3" fill="#9a80d8"/>
</svg>

<!-- donut -->
<svg width="1000" height="500" id="donut">
<path d="M909.00,319.30A49.5,49.5 0 0 1 916.74,319.91L912.91,344.11A25,25 0 0 0 909.00,343.80Z" fill="#07057c" stroke="#07057c" stroke-width="0.4"/>
<path d="M916.74,319.91A49.5,49.5 0 0 1 945.20,335.04L927.28,351.75A25,25 0 0 0 912.91,344.11Z" fill="#9574cc" stroke="#9574cc" stroke-width="0.4"/>
<path d="M945.20,335.04A49.5,49.5 0 0 1 956.21,383.68L932.84,376.32A25,25 0 0 0 927.28,351.75Z" fill="#d092dd" stroke="#d092dd" stroke-width="0.4"/>
<path d="M956.21,383.68A49.5,49.5 0 0 1 908.14,418.29L908.56,393.80A25,25 0 0 0 932.84,376.32Z" fill="#e993ba" stroke="#e993ba" stroke-width="0.4"/>
<path d="M908.14,418.29A49.5,49.5 0 0 1 866.13,393.55L887.35,381.30A25,25 0 0 0 908.56,393.80Z" fill="#feb0ba" stroke="#feb0ba" stroke-width="0.4"/>
<path d="M866.13,393.55A49.5,49.5 0 0 1 868.45,340.41L888.52,354.46A25,25 0 0 0 887.35,381.30Z" fill="#f9a183" stroke="#f9a183" stroke-width="0.4"/>
<path d="M868.45,340.41A49.5,49.5 0 0 1 909.00,319.30L909.00,343.80A25,25 0 0 0 888.52,354.46Z" fill="#e89c55" stroke="#e89c55" stroke-width="0.4"/>
</svg>

<!-- buttons -->
<div class="btn" style="left:79px;width:176px;background:#1c3160"></div>
<div class="btn" style="left:266px;width:170.5px;background:#502e96"></div>
<div class="btn" style="left:447px;width:171px;background:#5455ab"></div>
<div class="btn" style="left:628.5px;width:170.5px;background:#7b79e3"></div>
<div class="btn" style="left:810px;width:170.5px;background:#a19de6"></div>
<div class="bt" style="left:94.2px;transform:scaleX(1.145)">North America</div>
<div class="bt" style="left:315.0px;transform:scaleX(1.127)">Europe</div>
<div class="bt" style="left:473.4px;transform:scaleX(1.148)">Asia-Pacific</div>
<div class="bt" style="left:644.2px;transform:scaleX(1.143)">Latin America</div>
<div class="bt" style="left:866.2px;transform:scaleX(1.153)">Africa</div>

</body></html>
